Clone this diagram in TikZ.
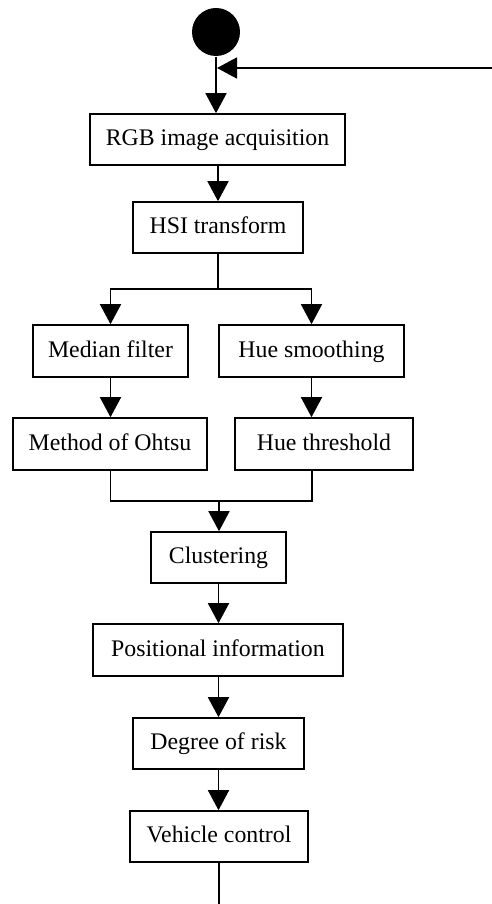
\documentclass[tikz,border=0pt]{standalone}
\usepackage{fontspec}
\setmainfont{Liberation Serif}
\usetikzlibrary{arrows.meta}
\begin{document}
\begin{tikzpicture}[x=1pt,y=-1pt, line width=1.6pt,
  box/.style={draw, rectangle, inner sep=0pt, text height=16pt, text depth=4pt, font=\fontsize{23.8}{28}\selectfont},
  arr/.style={-{Triangle[length=20pt,width=21pt]}}]
\useasboundingbox (0,0) rectangle (492,904);
\node[circle, fill=black, minimum size=48pt, inner sep=0pt] (start) at (216,32) {};
\node[box, minimum width=255pt, minimum height=51pt] (rgb) at (217.5,139.5) {RGB image acquisition};
\node[box, minimum width=170pt, minimum height=51pt] (hsi) at (218,227.5) {HSI transform};
\node[box, minimum width=155pt, minimum height=52pt] (mf) at (110.5,351) {Median filter};
\node[box, minimum width=185pt, minimum height=52pt] (hs) at (311.5,351) {Hue smoothing};
\node[box, minimum width=194pt, minimum height=52pt] (oh) at (110,444) {Method of Ohtsu};
\node[box, minimum width=178pt, minimum height=52pt] (ht) at (324,444) {Hue threshold};
\node[box, minimum width=135pt, minimum height=51pt] (cl) at (218.5,557.5) {Clustering};
\node[box, minimum width=250pt, minimum height=52pt] (pi) at (218,650) {Positional information};
\node[box, minimum width=171pt, minimum height=51pt] (dr) at (218.5,743.5) {Degree of risk};
\node[box, minimum width=178pt, minimum height=51pt] (vc) at (219,836.5) {Vehicle control};
\coordinate (fb) at (492,68);
\coordinate (join) at (217,68);
\coordinate (split) at (218,289);
\coordinate (merge) at (219,501);
\coordinate (mr) at (312,501);
\coordinate (end) at (219,904);
\draw[arr] (start.south) -- (start.south |- rgb.north);
\draw[arr] (fb) -- (join);
\draw[arr] (rgb.south -| hsi.north) -- (hsi.north);
\draw (hsi.south) -- (split);
\draw[arr] (split) -| (mf.north);
\draw[arr] (split) -| (hs.north);
\draw[arr] (mf.south) -- (oh.north -| mf.south);
\draw[arr] (hs.south) -- (hs.south |- ht.north);
\draw (oh.south -| mf.south) |- (mr) -- (mr |- ht.south);
\draw[arr] (merge) -- (merge |- cl.north);
\draw[arr] (cl.south) -- (cl.south |- pi.north);
\draw[arr] (pi.south -| dr.north) -- (dr.north);
\draw[arr] (dr.south) -- (dr.south |- vc.north);
\draw (vc.south) -- (end);
\end{tikzpicture}
\end{document}
